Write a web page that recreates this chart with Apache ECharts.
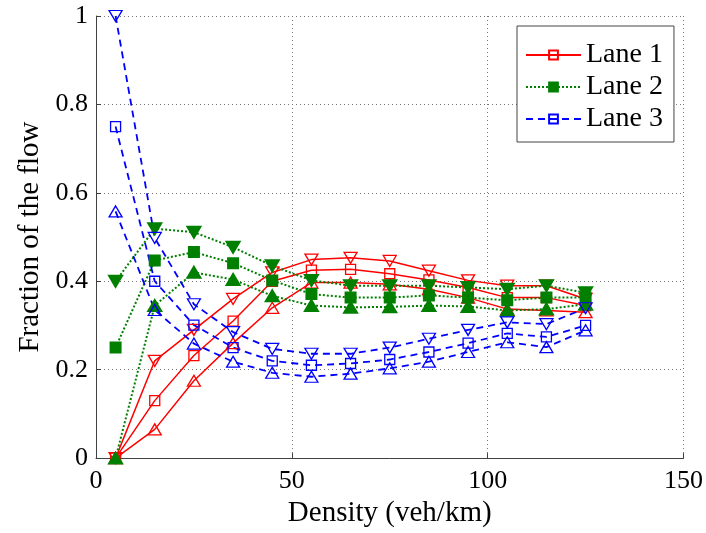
<!DOCTYPE html>
<html>
<head>
<meta charset="utf-8">
<script src="https://cdn.jsdelivr.net/npm/echarts@6/dist/echarts.min.js"></script>
<style>
  html, body { margin: 0; padding: 0; background: #fff; }
  #main { width: 706px; height: 533px; }
</style>
</head>
<body>
<div id="main"></div>
<script>
// densities (veh/km)
var densities = [5, 15, 25, 35, 45, 55, 65, 75, 85, 95, 105, 115, 125];

// Lane 1 (red, solid)
var lane1Sq   = [0, 0.13, 0.232, 0.31, 0.40, 0.425, 0.427, 0.417, 0.403, 0.386, 0.363, 0.363, 0.345];
var lane1Down = [0, 0.22, 0.29, 0.36, 0.42, 0.449, 0.453, 0.446, 0.424, 0.402, 0.39, 0.39, 0.36];
var lane1Up   = [0, 0.065, 0.175, 0.26, 0.34, 0.397, 0.397, 0.393, 0.382, 0.363, 0.337, 0.334, 0.33];

// Lane 2 (green, dotted)
var lane2Sq   = [0.25, 0.447, 0.466, 0.441, 0.402, 0.371, 0.363, 0.363, 0.368, 0.363, 0.357, 0.363, 0.363];
var lane2Down = [0.40, 0.519, 0.511, 0.477, 0.435, 0.402, 0.39, 0.39, 0.39, 0.386, 0.382, 0.39, 0.374];
var lane2Up   = [0, 0.345, 0.42, 0.404, 0.367, 0.345, 0.341, 0.342, 0.345, 0.343, 0.334, 0.337, 0.348];

// Lane 3 (blue, dashed)
var lane3Sq   = [0.75, 0.40, 0.301, 0.25, 0.22, 0.21, 0.214, 0.223, 0.24, 0.26, 0.282, 0.274, 0.30];
var lane3Down = [1.0, 0.498, 0.348, 0.285, 0.247, 0.236, 0.236, 0.25, 0.27, 0.29, 0.307, 0.303, 0.339];
var lane3Up   = [0.558, 0.335, 0.259, 0.218, 0.193, 0.184, 0.191, 0.203, 0.218, 0.24, 0.262, 0.251, 0.289];

var RED = '#ff0000', GREEN = '#007f00', BLUE = '#0000ff';
var FONT = '"Liberation Serif", "Times New Roman", serif';

function pairs(ys) {
  return densities.map(function (x, i) { return [x, ys[i]]; });
}

function makeSeries(name, ys, color, lineType, lineWidth, marker, filled) {
  var sym = marker === 'sq' ? 'rect' : 'triangle';
  return {
    name: name,
    type: 'line',
    data: pairs(ys),
    symbol: sym,
    symbolSize: marker === 'sq' ? 10 : [13, 11],
    symbolRotate: marker === 'down' ? 180 : 0,
    showAllSymbol: true,
    animation: false,
    lineStyle: { color: color, type: lineType, width: lineWidth },
    itemStyle: {
      color: filled ? color : 'rgba(0,0,0,0)',
      borderColor: color,
      borderWidth: filled ? 2 : 1.3
    },
    emphasis: { disabled: true }
  };
}

var myChart = echarts.init(document.getElementById('main'));

var axisLabelStyle = { color: '#000', fontFamily: FONT, fontSize: 26 };

var option = {
  backgroundColor: '#fff',
  grid: { left: 96, right: 20, top: 16, bottom: 71 },
  legend: {
    data: ['Lane 1', 'Lane 2', 'Lane 3'],
    orient: 'vertical',
    left: 517,
    top: 26,
    itemWidth: 55,
    itemHeight: 11,
    itemGap: 4,
    padding: [15, 11, 9, 8],
    borderColor: '#444',
    borderWidth: 1,
    backgroundColor: '#fff',
    textStyle: { color: '#000', fontFamily: FONT, fontSize: 28 }
  },
  xAxis: {
    type: 'value',
    min: 0,
    max: 150,
    interval: 50,
    name: 'Density (veh/km)',
    nameLocation: 'middle',
    nameGap: 40,
    nameTextStyle: { color: '#000', fontFamily: FONT, fontSize: 29 },
    axisLine: { show: true, lineStyle: { color: '#404040', width: 1 } },
    axisTick: { show: true, inside: true, length: 5, lineStyle: { color: '#404040' } },
    axisLabel: Object.assign({}, axisLabelStyle, { margin: 10 }),
    splitLine: { show: true, lineStyle: { color: '#777', type: [1, 3], width: 1 } }
  },
  yAxis: {
    type: 'value',
    min: 0,
    max: 1,
    interval: 0.2,
    name: 'Fraction of the flow',
    nameLocation: 'middle',
    nameGap: 50,
    nameTextStyle: { color: '#000', fontFamily: FONT, fontSize: 29 },
    axisLine: { show: true, lineStyle: { color: '#404040', width: 1 } },
    axisTick: { show: true, inside: true, length: 5, lineStyle: { color: '#404040' } },
    axisLabel: Object.assign({}, axisLabelStyle, {
      margin: 8,
      formatter: function (v) { return String(+v.toFixed(1)); }
    }),
    splitLine: { show: true, lineStyle: { color: '#777', type: [1, 3], width: 1 } }
  },
  series: [
    makeSeries('Lane 1', lane1Sq, RED, 'solid', 1.5, 'sq', false),
    makeSeries('Lane 1 down', lane1Down, RED, 'solid', 1.5, 'down', false),
    makeSeries('Lane 1 up', lane1Up, RED, 'solid', 1.5, 'up', false),
    makeSeries('Lane 2', lane2Sq, GREEN, [2, 2], 2, 'sq', true),
    makeSeries('Lane 2 down', lane2Down, GREEN, [2, 2], 2, 'down', true),
    makeSeries('Lane 2 up', lane2Up, GREEN, [2, 2], 2, 'up', true),
    makeSeries('Lane 3', lane3Sq, BLUE, [7, 5], 1.8, 'sq', false),
    makeSeries('Lane 3 down', lane3Down, BLUE, [7, 5], 1.8, 'down', false),
    makeSeries('Lane 3 up', lane3Up, BLUE, [7, 5], 1.8, 'up', false)
  ]
};

myChart.setOption(option);
</script>
</body>
</html>
